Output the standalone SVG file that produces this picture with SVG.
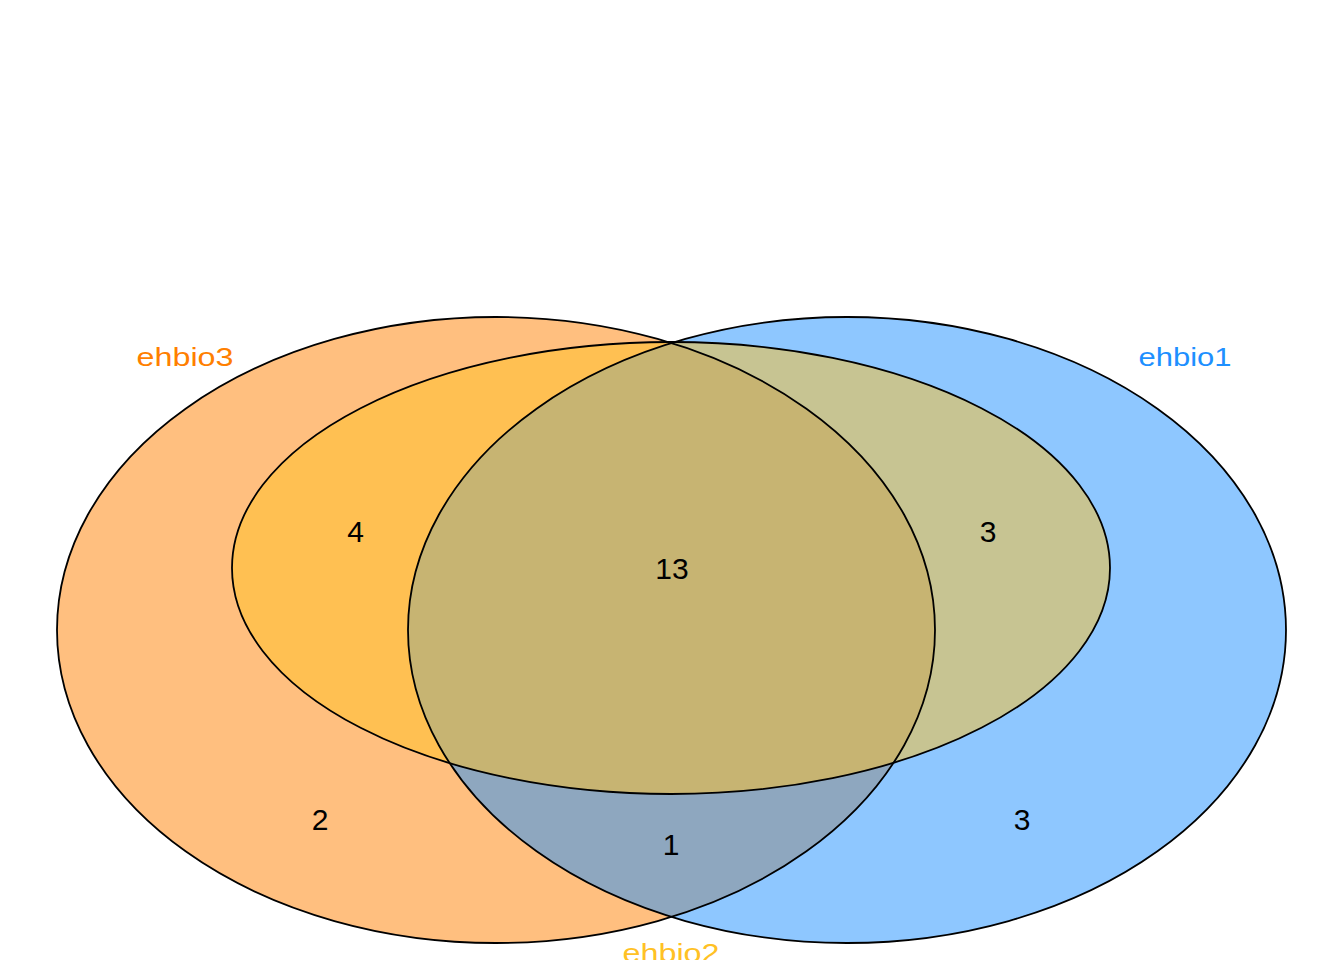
<svg xmlns="http://www.w3.org/2000/svg" width="1344" height="960" viewBox="0 0 1344 960">
<style>
.fill{stroke:none;fill-opacity:0.5}
.edge{fill:none;stroke:#000;stroke-width:1.8}
.num{font-family:"Liberation Sans",Arial,Helvetica,sans-serif;font-size:30px;fill:#000;text-anchor:middle}
.cat{font-family:"Liberation Sans",Arial,Helvetica,sans-serif;font-size:25px;text-anchor:middle}
</style>
<rect width="1344" height="960" fill="#fff"/>
<g id="ehbio3">
<ellipse class="fill" cx="496" cy="630" rx="439" ry="313" fill="#FF7F00"/>
</g>
<g id="ehbio1">
<ellipse class="fill" cx="847" cy="630" rx="439" ry="313" fill="#1E90FF"/>
</g>
<g id="ehbio2">
<ellipse class="fill" cx="671" cy="568" rx="439" ry="226" fill="#FFC125"/>
</g>
<g id="outlines">
<ellipse class="edge" cx="496" cy="630" rx="439" ry="313"/>
<ellipse class="edge" cx="847" cy="630" rx="439" ry="313"/>
<ellipse class="edge" cx="671" cy="568" rx="439" ry="226"/>
</g>
<g id="counts">
<text class="num" x="355.5" y="542">4</text>
<text class="num" x="672" y="579">13</text>
<text class="num" x="988" y="542">3</text>
<text class="num" x="320" y="830">2</text>
<text class="num" x="671" y="855">1</text>
<text class="num" x="1022" y="830">3</text>
</g>
<g id="labels">
<text class="cat" x="185" y="365.5" fill="#FF7F00" textLength="97" lengthAdjust="spacingAndGlyphs">ehbio3</text>
<text class="cat" x="1185" y="365.5" fill="#1E90FF" textLength="93" lengthAdjust="spacingAndGlyphs">ehbio1</text>
<text class="cat" x="671" y="962" fill="#FFC125" textLength="97" lengthAdjust="spacingAndGlyphs">ehbio2</text>
</g>
</svg>
